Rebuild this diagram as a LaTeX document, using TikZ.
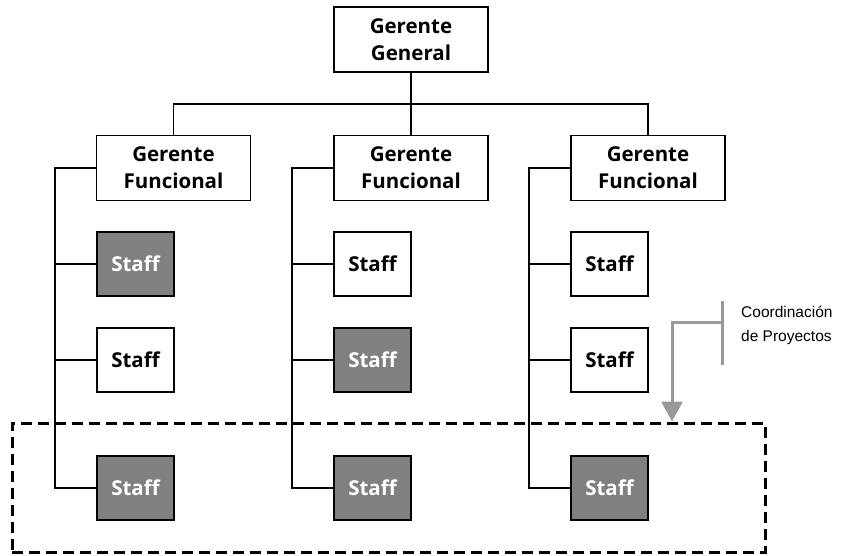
\documentclass[tikz,border=0pt]{standalone}
\usepackage{fontspec}
\usepackage{tikz}
\setmainfont{Liberation Sans}
\newfontfamily\cajafont{Open Sans}
\usetikzlibrary{arrows.meta}
\usetikzlibrary{positioning}

\definecolor{grisstaff}{RGB}{128,128,128}
\definecolor{grisflecha}{RGB}{153,153,153}

\tikzset{
  caja/.style={draw=black,line width=1.6pt,fill=white,align=center,
    font=\cajafont\bfseries\fontsize{20.5}{27}\selectfont},
  gerente/.style={caja,minimum width=154pt,minimum height=65pt},
  staffbox/.style={caja,minimum width=77pt,minimum height=64pt},
  oscuro/.style={fill=grisstaff,text=white},
  linea/.style={draw=black,line width=1.3pt},
  gris/.style={draw=grisflecha,line width=3pt}
}

\begin{document}
\begin{tikzpicture}[x=1pt,y=-1pt]
  \useasboundingbox (0,0) rectangle (843,555);

  % grupo de proyecto
  \node[draw=black,line width=3pt,dash pattern=on 11pt off 6pt,
        minimum width=753pt,minimum height=129pt] (grupo) at (388.5,487.5) {};

  % gerentes
  \begin{scope}[every node/.style={gerente}]
    \node (gg) at (411,39.5) {Gerente\\General};
    \node (gf1) at (173.5,168) {Gerente\\Funcional};
    \node (gf2) at (411,168) {Gerente\\Funcional};
    \node (gf3) at (648,168) {Gerente\\Funcional};
  \end{scope}

  % staff
  \begin{scope}[every node/.style={staffbox}]
    \node[oscuro] (s11) at (135.5,264) {Staff};
    \node (s12) at (135.5,360) {Staff};
    \node[oscuro] (s13) at (135.5,488) {Staff};
    \node (s21) at (372.5,264) {Staff};
    \node[oscuro] (s22) at (372.5,360) {Staff};
    \node[oscuro] (s23) at (372.5,488) {Staff};
    \node (s31) at (609.5,264) {Staff};
    \node (s32) at (609.5,360) {Staff};
    \node[oscuro] (s33) at (609.5,488) {Staff};
  \end{scope}

  % conexiones
  \coordinate (bus) at (411,104);
  \coordinate (t1) at (55,168);
  \coordinate (t2) at (292,168);
  \coordinate (t3) at (529,168);
  \begin{scope}[every path/.style={linea}]
    \draw (gg) -- (gf2);
    \draw (gf1.north) |- (bus) -| (gf3.north);
    \draw (gf1.west) -- (t1) |- (s13.west);
    \draw (t1 |- s11.west) -- (s11.west);
    \draw (t1 |- s12.west) -- (s12.west);
    \draw (gf2.west) -- (t2) |- (s23.west);
    \draw (t2 |- s21.west) -- (s21.west);
    \draw (t2 |- s22.west) -- (s22.west);
    \draw (gf3.west) -- (t3) |- (s33.west);
    \draw (t3 |- s31.west) -- (s31.west);
    \draw (t3 |- s32.west) -- (s32.west);
  \end{scope}

  % coordinacion de proyectos
  \node[anchor=west,align=left,inner sep=0pt,
        font=\fontsize{15.5}{24}\selectfont] (coord) at (741,325) {Coordinación\\de Proyectos};
  \coordinate (brk) at (722,322);
  \coordinate (tip) at (grupo.north -| 672,0);
  \draw[gris] (brk) ++(0,-21) -- ++(0,64);
  \draw[gris,-{Triangle[width=21pt,length=20pt]}] (brk) -| (tip);
\end{tikzpicture}
\end{document}
